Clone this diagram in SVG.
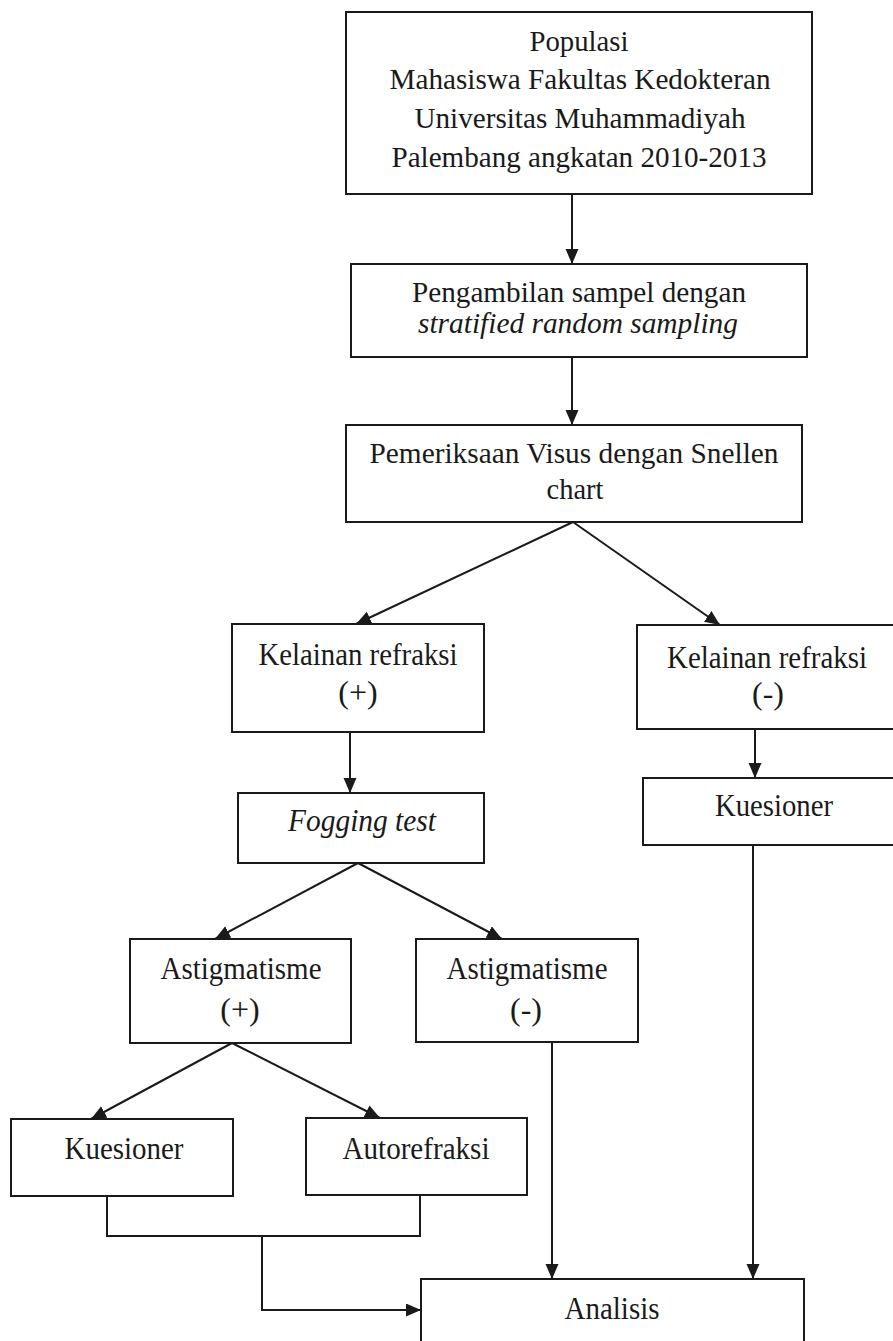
<svg xmlns="http://www.w3.org/2000/svg" width="893" height="1341" viewBox="0 0 893 1341">
<style>
.box{fill:#fff;stroke:#1a1a1a;stroke-width:2}
.t{font-family:"Liberation Serif",Tinos,"Times New Roman",serif;fill:#1a1a1a;text-anchor:middle}
.up{font-size:30px}
.lo{font-size:32px}
.it{font-style:italic}
.c{fill:none;stroke:#1a1a1a;stroke-width:2}
</style>
<defs>
<marker id="ah" markerUnits="userSpaceOnUse" markerWidth="16" markerHeight="14" refX="15" refY="6.5" orient="auto">
<path d="M0,0 L15,6.5 L0,13 z" fill="#1a1a1a"/>
</marker>
</defs>
<rect width="893" height="1341" fill="#fff"/>
<g id="connectors">
<line class="c" x1="572" y1="194" x2="572" y2="264" marker-end="url(#ah)"/>
<line class="c" x1="572" y1="357" x2="572" y2="425" marker-end="url(#ah)"/>
<line class="c" x1="573" y1="522" x2="356" y2="624" marker-end="url(#ah)"/>
<line class="c" x1="573" y1="522" x2="720" y2="625" marker-end="url(#ah)"/>
<line class="c" x1="350" y1="732" x2="350" y2="793" marker-end="url(#ah)"/>
<line class="c" x1="755" y1="729" x2="755" y2="778" marker-end="url(#ah)"/>
<line class="c" x1="358" y1="863" x2="215" y2="939" marker-end="url(#ah)"/>
<line class="c" x1="358" y1="863" x2="502" y2="939" marker-end="url(#ah)"/>
<line class="c" x1="232" y1="1043" x2="91" y2="1119" marker-end="url(#ah)"/>
<line class="c" x1="232" y1="1043" x2="380" y2="1118" marker-end="url(#ah)"/>
<polyline class="c" points="107,1196 107,1236 420,1236 420,1195"/>
<polyline class="c" points="262,1236 262,1310 421,1310" marker-end="url(#ah)"/>
<line class="c" x1="552" y1="1042" x2="552" y2="1279" marker-end="url(#ah)"/>
<line class="c" x1="753" y1="845" x2="753" y2="1279" marker-end="url(#ah)"/>
</g>
<g id="populasi">
<rect class="box" x="346" y="12" width="466" height="182"/>
<text class="t up" x="579" y="51" textLength="99" lengthAdjust="spacingAndGlyphs">Populasi</text>
<text class="t up" x="580" y="89" textLength="381" lengthAdjust="spacingAndGlyphs">Mahasiswa Fakultas Kedokteran</text>
<text class="t up" x="580" y="128" textLength="331" lengthAdjust="spacingAndGlyphs">Universitas Muhammadiyah</text>
<text class="t up" x="579" y="167" textLength="375" lengthAdjust="spacingAndGlyphs">Palembang angkatan 2010-2013</text>
</g>
<g id="sampel">
<rect class="box" x="351" y="264" width="456" height="93"/>
<text class="t up" x="579" y="302" textLength="334" lengthAdjust="spacingAndGlyphs">Pengambilan sampel dengan</text>
<text class="t up it" x="578" y="333" textLength="320" lengthAdjust="spacingAndGlyphs">stratified random sampling</text>
</g>
<g id="visus">
<rect class="box" x="346" y="425" width="456" height="97"/>
<text class="t up" x="574" y="463" textLength="409" lengthAdjust="spacingAndGlyphs">Pemeriksaan Visus dengan Snellen</text>
<text class="t up" x="575" y="499" textLength="57" lengthAdjust="spacingAndGlyphs">chart</text>
</g>
<g id="refraksi-pos">
<rect class="box" x="232" y="624" width="252" height="108"/>
<text class="t lo" x="358" y="665" textLength="199" lengthAdjust="spacingAndGlyphs">Kelainan refraksi</text>
<text class="t lo" x="358" y="703">(+)</text>
</g>
<g id="refraksi-neg">
<rect class="box" x="637" y="625" width="262" height="104"/>
<text class="t lo" x="767" y="668" textLength="200" lengthAdjust="spacingAndGlyphs">Kelainan refraksi</text>
<text class="t lo" x="768" y="704">(-)</text>
</g>
<g id="fogging">
<rect class="box" x="238" y="793" width="246" height="70"/>
<text class="t lo it" x="362" y="831" textLength="148" lengthAdjust="spacingAndGlyphs">Fogging test</text>
</g>
<g id="kuesioner-kanan">
<rect class="box" x="643" y="778" width="256" height="67"/>
<text class="t lo" x="774" y="816" textLength="118" lengthAdjust="spacingAndGlyphs">Kuesioner</text>
</g>
<g id="astig-pos">
<rect class="box" x="130" y="939" width="221" height="104"/>
<text class="t lo" x="241" y="979" textLength="161" lengthAdjust="spacingAndGlyphs">Astigmatisme</text>
<text class="t lo" x="240" y="1020">(+)</text>
</g>
<g id="astig-neg">
<rect class="box" x="416" y="939" width="222" height="103"/>
<text class="t lo" x="527" y="979" textLength="161" lengthAdjust="spacingAndGlyphs">Astigmatisme</text>
<text class="t lo" x="526" y="1020">(-)</text>
</g>
<g id="kuesioner-kiri">
<rect class="box" x="11" y="1119" width="222" height="77"/>
<text class="t lo" x="124" y="1159" textLength="119" lengthAdjust="spacingAndGlyphs">Kuesioner</text>
</g>
<g id="autorefraksi">
<rect class="box" x="306" y="1118" width="221" height="77"/>
<text class="t lo" x="416" y="1159" textLength="147" lengthAdjust="spacingAndGlyphs">Autorefraksi</text>
</g>
<g id="analisis">
<rect class="box" x="421" y="1279" width="383" height="80"/>
<text class="t lo" x="612" y="1319" textLength="95" lengthAdjust="spacingAndGlyphs">Analisis</text>
</g>
</svg>
